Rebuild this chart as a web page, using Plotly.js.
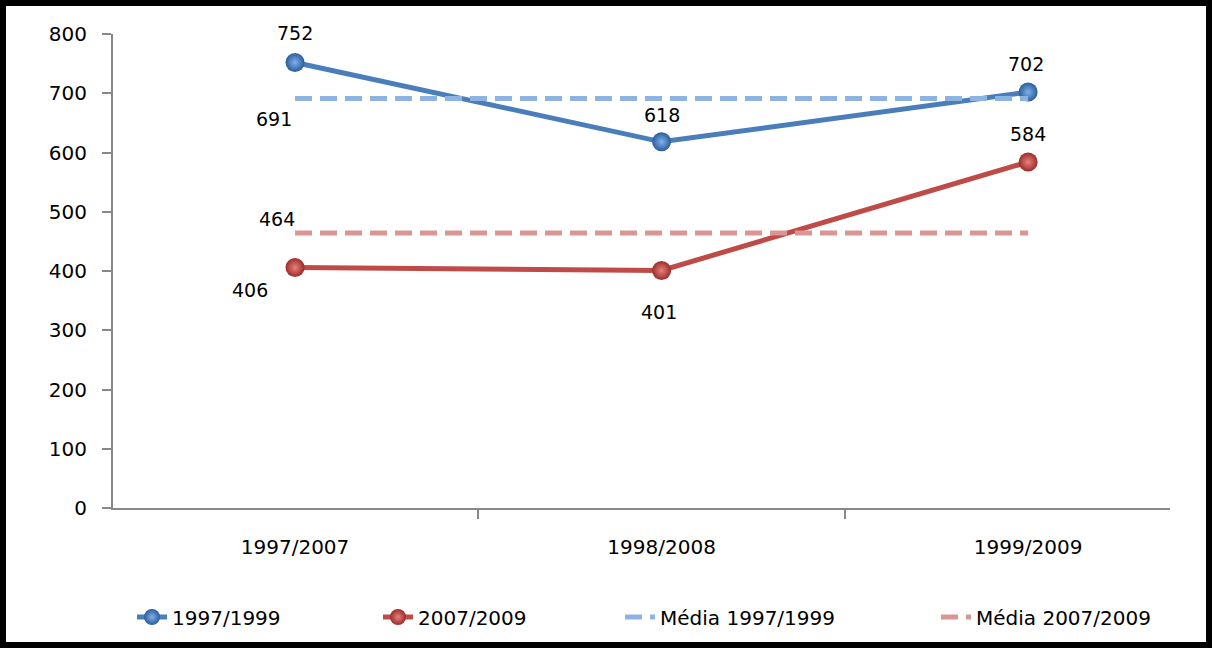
<!DOCTYPE html>
<html>
<head>
<meta charset="utf-8">
<script src="https://cdn.plot.ly/plotly-3.0.1.min.js"></script>
<style>
  html, body { margin: 0; padding: 0; background: #fff; }
  #frame { width: 1212px; height: 648px; box-sizing: border-box; border: 6px solid #000; background: #fff; }
  #chart { width: 1200px; height: 636px; }
</style>
</head>
<body>
<div id="frame"><div id="chart"></div></div>
<script>
// ---- data ----
const categories = ['1997/2007', '1998/2008', '1999/2009'];
const serie1997_1999 = [752, 618, 702];
const serie2007_2009 = [406, 401, 584];
const media1997_1999 = [691, 691, 691];
const media2007_2009 = [464, 464, 464];
const seriesNames = ['1997/1999', '2007/2009', 'Média 1997/1999', 'Média 2007/2009'];
const yTicks = [0, 100, 200, 300, 400, 500, 600, 700, 800];

// ---- style ----
const FONT = 'DejaVu Sans';
const blue = '#4a7ebb', red = '#be4b48', blueLight = '#8db3e2', redLight = '#d99694';

function ballMarker(edge, center) {
  return { size: 19, color: edge, line: { width: 0 }, gradient: { type: 'radial', color: center } };
}

const traces = [
  { x: categories, y: serie1997_1999, name: seriesNames[0], type: 'scatter', mode: 'lines+markers',
    line: { color: blue, width: 5 }, marker: ballMarker('#2b5d9c', '#7fb0ea'), legend: 'legend' },
  { x: categories, y: serie2007_2009, name: seriesNames[1], type: 'scatter', mode: 'lines+markers',
    line: { color: red, width: 5 }, marker: ballMarker('#9a2d2a', '#e8807c'), legend: 'legend2' },
  { x: categories, y: media1997_1999, name: seriesNames[2], type: 'scatter', mode: 'lines',
    line: { color: blueLight, width: 5, dash: '17px,8px' }, legend: 'legend3' },
  { x: categories, y: media2007_2009, name: seriesNames[3], type: 'scatter', mode: 'lines',
    line: { color: redLight, width: 5, dash: '17px,8px' }, legend: 'legend4' }
];

// label placement (style): [xshift, yshift] per point
const off1 = [[0, 29], [0, 27], [-2, 28]];
const off2 = [[-45, -23], [-3, -42], [0, 28]];
const annotations = [];
function addLabels(vals, offs, idxs) {
  idxs.forEach(i => {
    annotations.push({ x: categories[i], y: vals[i], text: String(vals[i]), showarrow: false,
      xanchor: 'center', yanchor: 'middle', xshift: offs[i][0], yshift: offs[i][1],
      font: { family: FONT, size: 19, color: '#000' } });
  });
}
addLabels(serie1997_1999, off1, [0, 1, 2]);
addLabels(serie2007_2009, off2, [0, 1, 2]);
addLabels(media1997_1999, [[-21, -20]], [0]);
addLabels(media2007_2009, [[-18, 14]], [0]);

function legendAt(x) {
  return { orientation: 'h', x: x, y: -0.23, xanchor: 'left', yanchor: 'middle',
    bgcolor: 'rgba(0,0,0,0)', font: { family: FONT, size: 20, color: '#000' } };
}

const layout = {
  width: 1200, height: 636,
  margin: { l: 107, r: 36, t: 28, b: 134, autoexpand: false },
  paper_bgcolor: '#fff', plot_bgcolor: '#fff',
  font: { family: FONT, size: 20, color: '#000' },
  showlegend: true,
  xaxis: {
    type: 'category', range: [-0.4966, 2.387], tickson: 'boundaries', automargin: false,
    showgrid: false, zeroline: false, showline: true, linecolor: '#888', linewidth: 2,
    ticks: 'outside', ticklen: 9, tickwidth: 2, tickcolor: '#888', ticklabelstandoff: 20,
    tickfont: { family: FONT, size: 20, color: '#000' }
  },
  yaxis: {
    range: [0, 800], tickvals: yTicks, showgrid: false, zeroline: false, automargin: false,
    showline: true, linecolor: '#888', linewidth: 2,
    ticks: 'outside', ticklen: 9, tickwidth: 2, tickcolor: '#888', ticklabelstandoff: 11,
    tickfont: { family: FONT, size: 20, color: '#000' }
  },
  legend: legendAt(0.018),
  legend2: legendAt(0.2507),
  legend3: legendAt(0.4797),
  legend4: legendAt(0.7786),
  annotations: annotations
};

Plotly.newPlot('chart', traces, layout, { displayModeBar: false, staticPlot: true });
</script>
</body>
</html>
